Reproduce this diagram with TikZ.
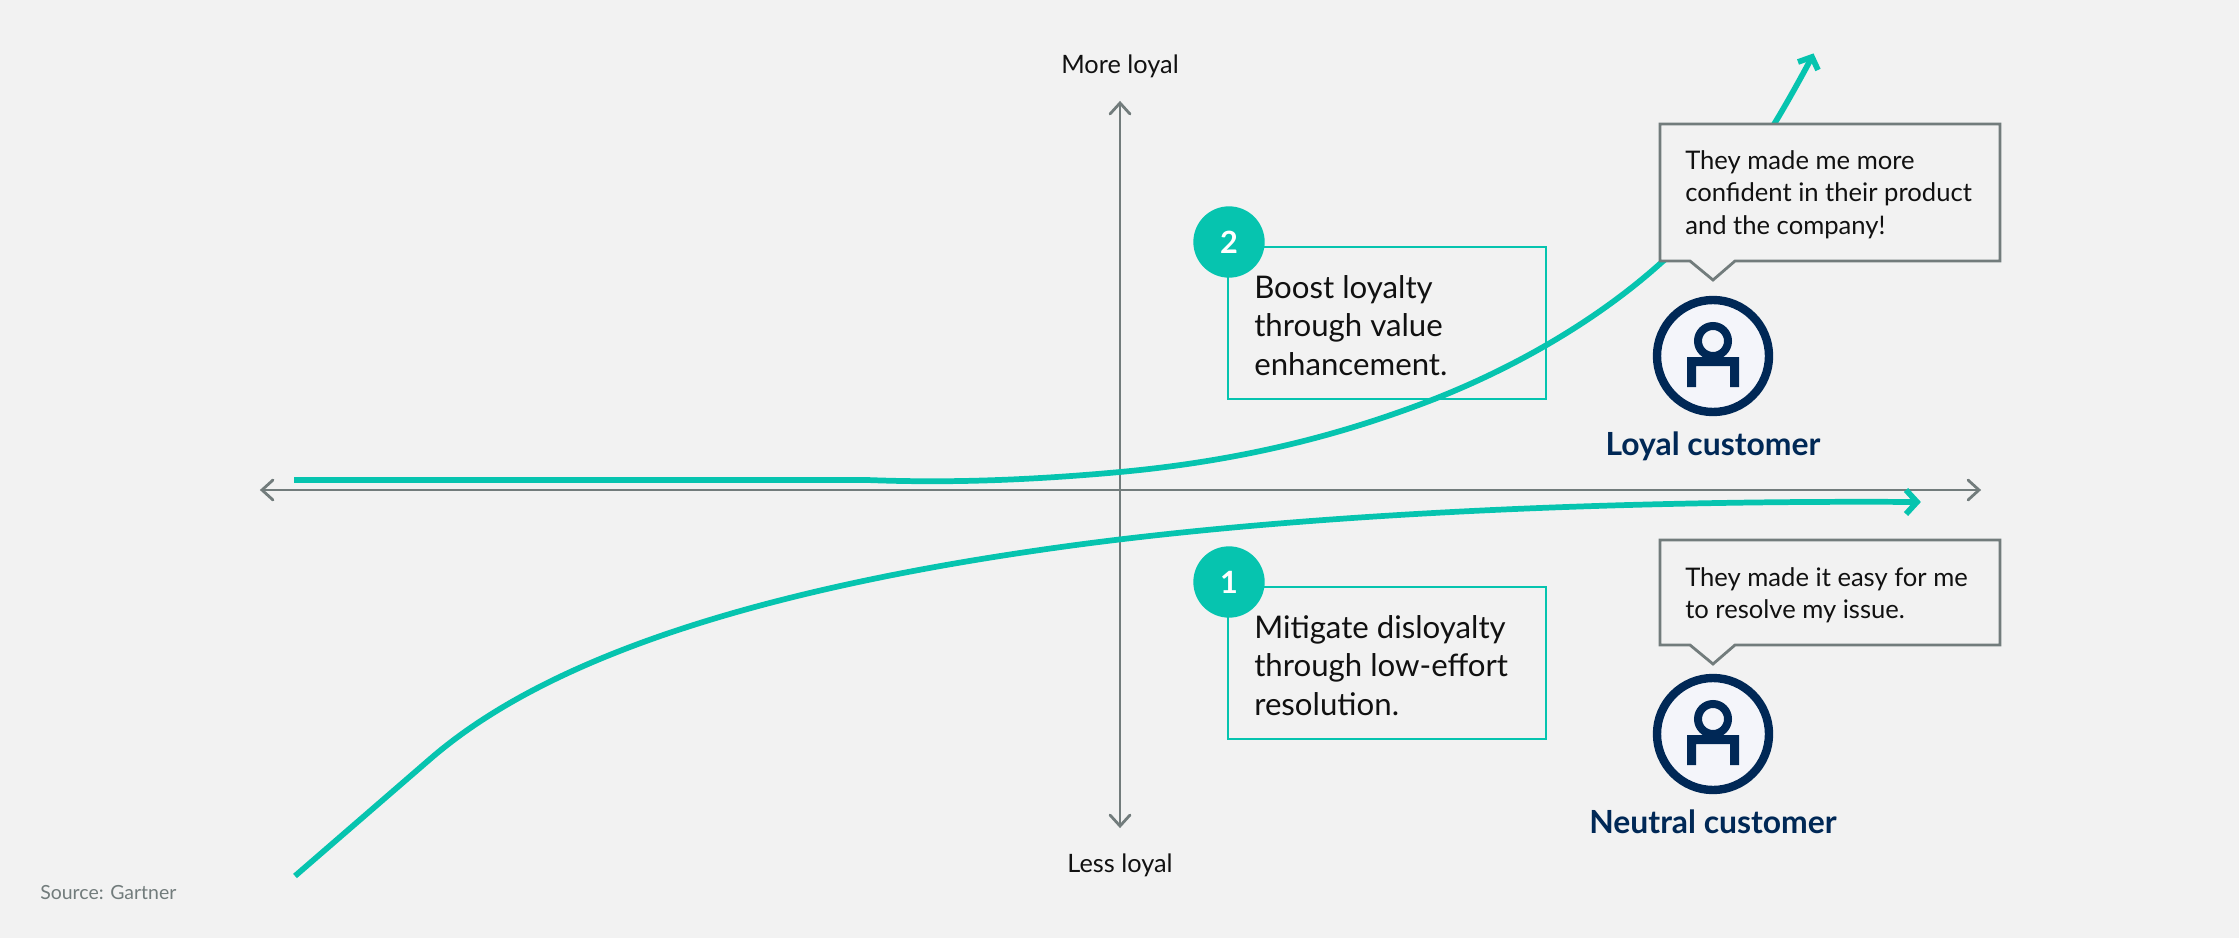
\documentclass[tikz,border=0pt]{standalone}
\usepackage{fontspec}
\setmainfont{Lato}
\definecolor{bgc}{HTML}{F2F2F2}
\definecolor{teal}{HTML}{06C4AF}
\definecolor{axisc}{HTML}{727C7C}
\definecolor{navy}{HTML}{002856}
\definecolor{iconbg}{HTML}{F4F5FA}
\definecolor{inkc}{HTML}{111111}
\tikzset{
  x=0.75pt,y=-0.75pt,
  axisline/.style={draw=axisc,line width=2.1pt},
  axishead/.style={draw=axisc,line width=2.1pt,fill=none,line cap=round,line join=miter},
  curveline/.style={draw=teal,line width=4.3pt},
  curvehead/.style={draw=teal,line width=4.3pt,fill=none,line join=miter},
  callout/.style={draw=axisc,line width=2.1pt,fill=bgc,miter limit=10},
  tealbox/.style={draw=teal,line width=2pt,fill=none},
  badge/.style={circle,fill=teal,text=white,minimum size=53.5pt,inner sep=0pt,font=\fontsize{23}{23}\selectfont\bfseries},
  bodytext/.style={anchor=base west,inner sep=0pt,text=inkc,font=\fontsize{23.4}{23.4}\selectfont},
  quotetext/.style={anchor=base west,inner sep=0pt,text=inkc,font=\fontsize{19.2}{19.2}\selectfont},
  axislabel/.style={anchor=base,inner sep=0pt,text=inkc,font=\fontsize{19}{19}\selectfont},
  custlabel/.style={anchor=base,inner sep=0pt,text=navy,font=\fontsize{23.9}{23.9}\selectfont\bfseries},
  ringc/.style={circle,draw=navy,fill=iconbg,line width=6.3pt,minimum size=84pt,inner sep=0pt},
  headc/.style={circle,draw=navy,fill=none,line width=6pt,minimum size=22.5pt,inner sep=0pt},
}
\begin{document}
\begin{tikzpicture}
\path[use as bounding box,fill=bgc] (0,0) rectangle (2239,938);
% axes
\coordinate (xl) at (262,490); \coordinate (xr) at (1979,490);
\coordinate (yt) at (1120,103); \coordinate (yb) at (1120,826);
\draw[axisline] (xl) -- (xr);
\draw[axisline] (yt) -- (yb);
\draw[axishead] (273,480) -- (xl) -- (273,500);
\draw[axishead] (1968,480) -- (xr) -- (1968,500);
\draw[axishead] (1110,114) -- (yt) -- (1130,114);
\draw[axishead] (1110,815) -- (yb) -- (1130,815);
% teal boxes
\draw[tealbox] (1228,247) rectangle (1546,399);
\draw[tealbox] (1228,587) rectangle (1546,739);
% curves
\coordinate (c1s) at (294,480); \coordinate (c1e) at (1812,57);
\coordinate (c2s) at (295,876); \coordinate (c2e) at (1917,502);
\draw[curveline] (c1s) -- (867,480)
  .. controls (920,482) and (1000,483) .. (1120,472)
  .. controls (1250,460) and (1350,432) .. (1437,398)
  .. controls (1520,365) and (1600,318) .. (1662,262)
  .. controls (1720,215) and (1765,145) .. (c1e);
\draw[curvehead] (1798,62) -- (c1e) -- (1818,70);
\draw[curveline] (c2s) -- (429,760)
  .. controls (515,685) and (680,602) .. (1040,550)
  .. controls (1280,515) and (1600,500) .. (c2e);
\draw[curvehead] (1906,490) -- (c2e) -- (1906,514);
% callouts
\draw[callout] (1660,124) -- (2000,124) -- (2000,261) -- (1735,261) -- (1713,280) -- (1690,261) -- (1660,261) -- cycle;
\draw[callout] (1660,540) -- (2000,540) -- (2000,645) -- (1735,645) -- (1713,664) -- (1690,645) -- (1660,645) -- cycle;
% badges
\node[badge] (b2) at (1229,242) {\raisebox{-4.5pt}{2}};
\node[badge] (b1) at (1229,582) {\raisebox{-4.5pt}{1}};
% box text
\node[bodytext] (t21) at (1254,298) {Boost loyalty};
\node[bodytext] (t22) at (1254,336) {through value};
\node[bodytext] (t23) at (1254,375) {enhancement.};
\node[bodytext] (t11) at (1254,638) {Mitigate disloyalty};
\node[bodytext] (t12) at (1254,676) {through low-effort};
\node[bodytext] (t13) at (1254,715) {resolution.};
% quote text
\node[quotetext] (q1) at (1685,170) {They made me more};
\node[quotetext] (q2) at (1685,202) {confident in their product};
\node[quotetext] (q3) at (1685,234) {and the company!};
\node[quotetext] (q4) at (1685,586) {They made it easy for me};
\node[quotetext] (q5) at (1685,618) {to resolve my issue.};
% icons
\node[ringc] (r1) at (1713,356) {};
\node[headc] (h1) at (1713,341) {};
\fill[navy] (1687,357) -- (1739,357) -- (1739,387) -- (1730,387) -- (1730,366) -- (1696,366) -- (1696,387) -- (1687,387) -- cycle;
\node[ringc] (r2) at (1713,734) {};
\node[headc] (h2) at (1713,719) {};
\fill[navy] (1687,735) -- (1739,735) -- (1739,765) -- (1730,765) -- (1730,744) -- (1696,744) -- (1696,765) -- (1687,765) -- cycle;
\node[custlabel] (l1) at (1713,455) {Loyal customer};
\node[custlabel] (l2) at (1713,833) {Neutral customer};
% axis labels
\node[axislabel] (ml) at (1120,74) {More loyal};
\node[axislabel] (ll) at (1120,872) {Less loyal};
\node[anchor=base west,inner sep=0pt,text=axisc,font=\fontsize{14.6}{14.6}\selectfont] (src) at (40,899) {Source: Gartner};
\end{tikzpicture}
\end{document}
